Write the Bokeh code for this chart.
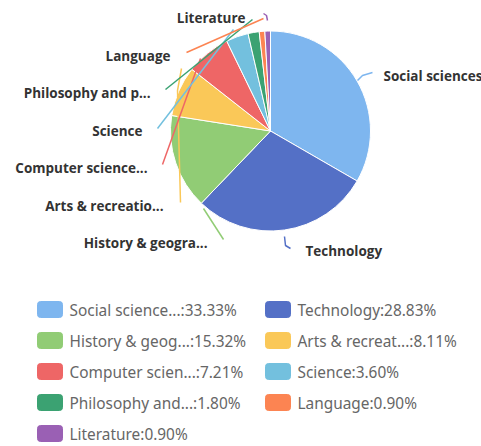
from bokeh.plotting import figure
from bokeh.models import Range1d, ColumnDataSource
from bokeh.core.properties import value
from bokeh.embed import file_html
from bokeh.resources import INLINE
import math

# ---- data ----
categories = ["Social sciences", "Technology", "History & geography", "Arts & recreation",
              "Computer science, information & general works", "Science",
              "Philosophy and psychology", "Language", "Literature"]
counts = [37, 32, 17, 9, 8, 4, 2, 1, 1]
pie_labels = ["Social sciences", "Technology", "History & geogra...", "Arts & recreatio...",
              "Computer science...", "Science", "Philosophy and p...", "Language", "Literature"]
legend_names = ["Social science...", "Technology", "History & geog...", "Arts & recreat...",
                "Computer scien...", "Science", "Philosophy and...", "Language", "Literature"]
colors = ["#7eb6ef", "#5470c6", "#91cc75", "#fac858", "#ee6666", "#73c0de",
          "#3ba272", "#fc8452", "#9a60b4"]

# ---- layout (image pixel coords; data y = -image y) ----
W, H = 481, 446
CX, CY, R = 270, 130.5, 100
label_pos = [(383, 75, "left"), (305, 250, "left"), (207, 242, "right"), (163, 205, "right"),
             (147, 167, "right"), (142, 130, "right"), (150, 92, "right"), (170, 55, "right"),
             (245, 17, "right")]
label_lines = [
    [(357, 80), (362, 75), (372, 72)],
    [(284, 236), (285, 245), (290, 248)],
    [(203, 208), (223, 239)],
    [(181, 68), (177, 90), (180, 202)],
    [(200, 58), (162, 164)],
    [(233, 29), (157, 128)],
    [(252, 19), (165, 89)],
    [(263, 18), (186, 52)],
    [(263, 13), (266, 15), (267, 20)],
]

p = figure(width=W, height=H, output_backend="svg", toolbar_location=None,
           x_range=Range1d(0, W), y_range=Range1d(-H, 0),
           x_axis_location=None, y_axis_location=None, min_border=0)
p.outline_line_color = None
p.xgrid.visible = False
p.ygrid.visible = False

total = sum(counts)
fracs = [c / total for c in counts]
starts, ends = [], []
cum = 0.0
for f in fracs:
    starts.append(math.pi / 2 - cum * 2 * math.pi)
    cum += f
    ends.append(math.pi / 2 - cum * 2 * math.pi)

src = ColumnDataSource(dict(x=[CX] * len(counts), y=[-CY] * len(counts),
                            start=starts, end=ends, color=colors))
p.wedge(x="x", y="y", radius=R, start_angle="start", end_angle="end", direction="clock",
        fill_color="color", line_color="white", line_width=1, source=src)

for pts, c in zip(label_lines, colors):
    p.line([q[0] for q in pts], [-q[1] for q in pts], line_color=c, line_width=1.5)

for (lx, ly, al), t in zip(label_pos, pie_labels):
    p.text(x=[lx], y=[-ly], text=[t], text_align=al, text_baseline="middle",
           text_font=value("Open Sans"), text_font_size="13.5px", text_color="#333333",
           text_font_style="bold")

# ---- legend (two columns) ----
col_x = [37, 265]
row_y0, row_dy = 309, 31
for i, (n, c, f) in enumerate(zip(legend_names, colors, fracs)):
    cx = col_x[i % 2]
    ry = row_y0 + (i // 2) * row_dy
    p.rect(x=[cx + 12.5], y=[-ry], width=25, height=16, fill_color=c, line_color=c,
           border_radius=3)
    p.text(x=[cx + 32], y=[-ry - 1], text=[f"{n}:{f * 100:.2f}%"], text_align="left",
           text_baseline="middle", text_font=value("Noto Sans"), text_font_size="15.4px",
           text_color="#666666")

open("out.html", "w").write(file_html(p, INLINE))
